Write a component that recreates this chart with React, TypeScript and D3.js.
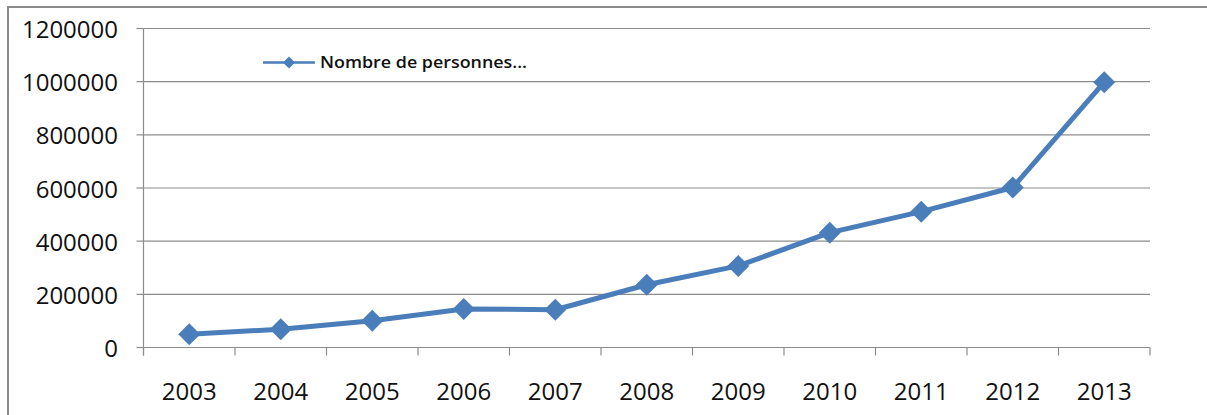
import React from "react";
import * as d3 from "d3";

const years = ["2003", "2004", "2005", "2006", "2007", "2008", "2009", "2010", "2011", "2012", "2013"];
const persons = [50000, 69000, 101000, 145000, 142000, 236000, 307000, 432000, 511000, 602000, 998000];
const yTicks = [0, 200000, 400000, 600000, 800000, 1000000, 1200000];
const seriesName = "Nombre de personnes...";

const W = 1207;
const H = 415;
const plot = { left: 143.5, right: 1150, top: 28.5, bottom: 347.5 };
const blue = "#4A7EBB";
const grid = "#8C8C8C";
const font = "'Open Sans', 'Noto Sans', sans-serif";

export default function App() {
  const x = d3.scaleBand<string>().domain(years).range([plot.left, plot.right]);
  const y = d3.scaleLinear().domain([0, 1200000]).range([plot.bottom, plot.top]);
  const cx = (d: string) => (x(d) ?? 0) + x.bandwidth() / 2;

  const line = d3
    .line<number>()
    .x((_, i) => cx(years[i]))
    .y((v) => y(v));

  const diamond = (s: number) => `M0,${-s}L${s},0L0,${s}L${-s},0Z`;
  const boundaries = years.map((d) => x(d) ?? 0).concat([plot.right]);

  return (
    <svg
      width={W}
      height={H}
      style={{ position: "absolute", left: 0, top: 0, background: "#fff" }}
    >
      {/* outer chart frame */}
      <path d={`M8,${H}V7H${W}`} fill="none" stroke="#8A8A8A" strokeWidth={2} />

      {/* horizontal gridlines and y ticks */}
      {yTicks.map((t) => (
        <g key={t}>
          <line x1={plot.left} x2={plot.right} y1={y(t)} y2={y(t)} stroke={grid} strokeWidth={1.2} />
          <line x1={plot.left - 7} x2={plot.left} y1={y(t)} y2={y(t)} stroke={grid} strokeWidth={1.2} />
          <text
            x={118}
            y={y(t)}
            textAnchor="end"
            dominantBaseline="central"
            fontFamily={font}
            fontSize={24}
            fill="#111"
          >
            {t}
          </text>
        </g>
      ))}

      {/* axes */}
      <line x1={plot.left} x2={plot.left} y1={plot.top} y2={plot.bottom + 8} stroke={grid} strokeWidth={1.2} />
      {boundaries.map((b, i) => (
        <line key={i} x1={b} x2={b} y1={plot.bottom} y2={plot.bottom + 8} stroke={grid} strokeWidth={1.2} />
      ))}
      {years.map((d) => (
        <text
          key={d}
          x={cx(d)}
          y={399.5}
          textAnchor="middle"
          fontFamily={font}
          fontSize={24}
          fill="#111"
        >
          {d}
        </text>
      ))}

      {/* series */}
      <path d={line(persons) ?? ""} fill="none" stroke={blue} strokeWidth={5} strokeLinejoin="round" />
      {persons.map((v, i) => (
        <path key={i} d={diamond(11)} transform={`translate(${cx(years[i])},${y(v)})`} fill={blue} />
      ))}

      {/* legend */}
      <line x1={263} x2={315} y1={62.5} y2={62.5} stroke={blue} strokeWidth={2.5} />
      <path d={diamond(6)} transform="translate(289,62.5)" fill={blue} />
      <text
        x={320}
        y={68}
        fontFamily={font}
        fontSize={17}
        fontWeight={600}
        fill="#111"
        textLength={207}
        lengthAdjust="spacingAndGlyphs"
      >
        {seriesName}
      </text>
    </svg>
  );
}
